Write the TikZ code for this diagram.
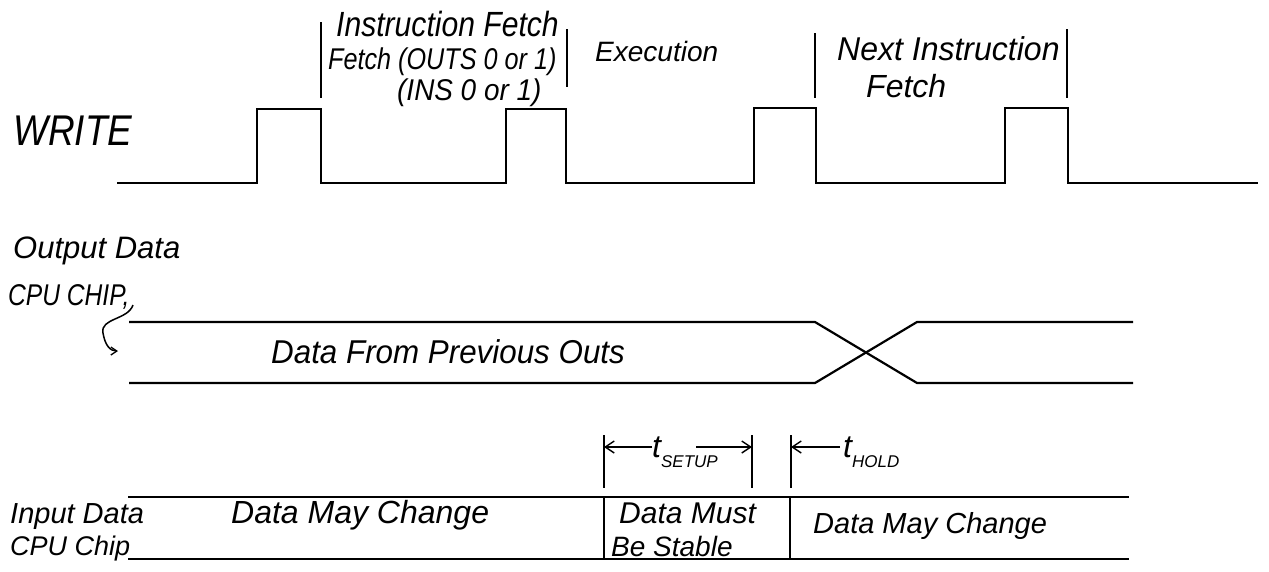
\documentclass[tikz,border=0pt]{standalone}
\usepackage{fontspec}
\setmainfont{Liberation Sans}
\usetikzlibrary{arrows.meta}
\newcommand{\myfs}[1]{\fontsize{#1}{#1}\selectfont}
\newcommand{\cond}[3]{\scalebox{#1}[1]{\itshape\myfs{#2}#3}}
\begin{document}
\begin{tikzpicture}[x=1pt,y=-1pt,
  sig/.style={line width=2.2pt, line join=miter},
  sep/.style={line width=1.2pt},
  lbl/.style={anchor=west, inner sep=0pt, font=\itshape},
  dim/.style={line width=1.6pt},
  barbarrow/.style={line width=1.6pt, -{Straight Barb[length=9pt,width=12pt,line width=1.4pt]}}
]
\useasboundingbox[fill=white] (0,0) rectangle (1269,571);

% ---------- WRITE signal ----------
\coordinate (w0) at (117,183);
\coordinate (w1) at (1258,183);
\draw[sig] (w0) -- (257,183) -- (257,109) -- (321,109) -- (321,183)
  -- (506,183) -- (506,109) -- (566,109) -- (566,183)
  -- (754,183) -- (754,108) -- (816,108) -- (816,183)
  -- (1005,183) -- (1005,108) -- (1068,108) -- (1068,183) -- (w1);

% phase separators
\coordinate (s1a) at (321,22);  \coordinate (s1b) at (321,98);
\coordinate (s2a) at (567,29);  \coordinate (s2b) at (567,87);
\coordinate (s3a) at (815,33);  \coordinate (s3b) at (815,98);
\coordinate (s4a) at (1067,29); \coordinate (s4b) at (1067,98);
\draw[sep] (s1a) -- (s1b);
\draw[sep] (s2a) -- (s2b);
\draw[sep] (s3a) -- (s3b);
\draw[sep] (s4a) -- (s4b);

\node[lbl] (write) at (13,131) {\cond{0.86}{43}{WRITE}};
\node[lbl] (ifetch) at (336,24) {\cond{0.86}{35}{Instruction Fetch}};
\node[lbl] (fouts) at (328,62) {\cond{0.84}{30}{Fetch (OUTS 0 or 1)}};
\node[lbl] (fins) at (397,93) {\cond{0.93}{30}{(INS 0 or 1)}};
\node[lbl, font=\itshape\myfs{28}] (exec) at (595,51) {Execution};
\node[lbl] (next) at (837,49) {\cond{0.97}{33}{Next Instruction}};
\node[lbl, font=\itshape\myfs{32}] (nfetch) at (866,86) {Fetch};

% ---------- Output data ----------
\node[lbl, font=\itshape\myfs{31}] (odata) at (13,251) {Output Data};
\node[lbl] (ochip) at (8,297) {\cond{0.82}{30}{CPU CHIP,}};
\coordinate (sq0) at (133,305);
\coordinate (sq1) at (118,351);
\draw[line width=1.5pt, -{Straight Barb[length=6pt,width=8pt,line width=1.3pt]}]
  (sq0) .. controls (128,320) and (100,318) .. (103,333)
        .. controls (105,345) and (110,351) .. (sq1);

\coordinate (ot0) at (129,322);
\coordinate (ob0) at (129,383);
\coordinate (ot1) at (1133,322);
\coordinate (ob1) at (1133,383);
\draw[sig] (ot0) -- (815,322) -- (917,383) -- (ob1);
\draw[sig] (ob0) -- (815,383) -- (917,322) -- (ot1);
\node[lbl] (prev) at (271,352) {\cond{0.95}{33}{Data From Previous Outs}};

% ---------- Input data ----------
\coordinate (it0) at (128,497);
\coordinate (ib0) at (128,559);
\coordinate (it1) at (1129,497);
\coordinate (ib1) at (1129,559);
\draw[sig] (it0) -- (it1);
\draw[sig] (ib0) -- (ib1);
\coordinate (d1t) at (604,497); \coordinate (d1b) at (604,559);
\coordinate (d2t) at (790,497); \coordinate (d2b) at (790,559);
\draw[dim] (d1t) -- (d1b);
\draw[dim] (d2t) -- (d2b);

\node[lbl, font=\itshape\myfs{29}] (idata) at (10,517) {Input Data};
\node[lbl, font=\itshape\myfs{27}] (ichip) at (10,549) {CPU Chip};
\node[lbl, font=\itshape\myfs{32}] (chg1) at (231,515) {Data May Change};
\node[lbl, font=\itshape\myfs{30}] (must) at (619,513) {Data Must};
\node[lbl, font=\itshape\myfs{28}] (stable) at (611,546) {Be Stable};
\node[lbl, font=\itshape\myfs{29}] (chg2) at (813,526) {Data May Change};

% ---------- setup / hold ----------
\coordinate (su0t) at (604,435); \coordinate (su0b) at (604,488);
\coordinate (su1t) at (752,435); \coordinate (su1b) at (752,488);
\coordinate (ho0t) at (791,435); \coordinate (ho0b) at (791,488);
\draw[dim] (su0t) -- (su0b);
\draw[dim] (su1t) -- (su1b);
\draw[dim] (ho0t) -- (ho0b);

\node[lbl] (tsu) at (652,452) {{\itshape\myfs{32}t}\raisebox{-10pt}{\itshape\myfs{17}SETUP}};
\node[lbl] (tho) at (843,452) {{\itshape\myfs{32}t}\raisebox{-10pt}{\itshape\myfs{17}HOLD}};
\coordinate (a1) at (652,447);
\coordinate (a2) at (696,447);
\coordinate (a3) at (840,447);
\draw[barbarrow] (a1) -- (604,447);
\draw[barbarrow] (a2) -- (752,447);
\draw[barbarrow] (a3) -- (791,447);
\end{tikzpicture}
\end{document}
